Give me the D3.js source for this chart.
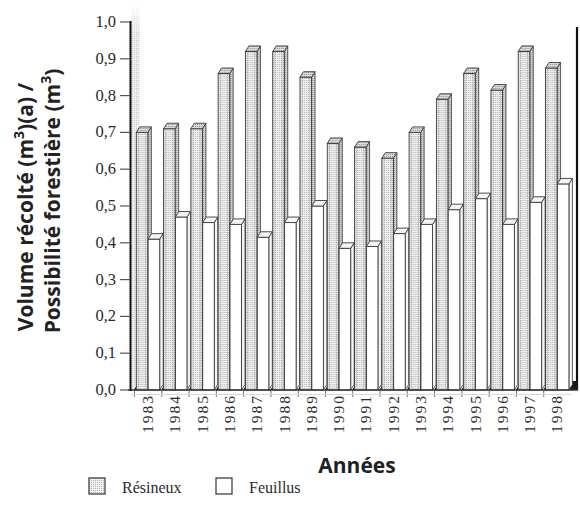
<!DOCTYPE html>
<html>
<head>
<meta charset="utf-8">
<script src="https://cdn.jsdelivr.net/npm/d3@7"></script>
<style>
  html, body { margin: 0; padding: 0; background: #fff; }
  svg { display: block; }
</style>
</head>
<body>
<svg id="chart" width="580" height="517"></svg>
<script>
// Harvested volume / allowable cut ratio, softwoods vs hardwoods
const years = ["1983","1984","1985","1986","1987","1988","1989","1990",
               "1991","1992","1993","1994","1995","1996","1997","1998"];
const resineux = [0.70, 0.71, 0.71, 0.86, 0.92, 0.92, 0.85, 0.67,
                  0.66, 0.63, 0.70, 0.79, 0.86, 0.815, 0.92, 0.875];
const feuillus = [0.41, 0.47, 0.455, 0.45, 0.415, 0.455, 0.50, 0.385,
                  0.39, 0.425, 0.45, 0.49, 0.52, 0.45, 0.51, 0.56];
const seriesNames = ["Résineux", "Feuillus"];
const yTicks = [0, 0.1, 0.2, 0.3, 0.4, 0.5, 0.6, 0.7, 0.8, 0.9, 1.0];
const yTickLabels = ["0,0","0,1","0,2","0,3","0,4","0,5","0,6","0,7","0,8","0,9","1,0"];

const svg = d3.select("#chart");

// stipple patterns for the shaded softwood bars
const defs = svg.append("defs");
function stipple(id, bg, dot) {
  const p = defs.append("pattern").attr("id", id)
    .attr("width", 2).attr("height", 2).attr("patternUnits", "userSpaceOnUse");
  p.append("rect").attr("width", 2).attr("height", 2).attr("fill", bg);
  p.append("rect").attr("width", 1).attr("height", 1).attr("fill", dot);
}
stipple("dotFront", "#f0f0f0", "#b4b4b4");
stipple("dotSide", "#d2d2d2", "#8e8e8e");
stipple("dotTop", "#dcdcdc", "#929292");
stipple("dotWall", "#f0f0f0", "#cdcdcd");

const wallTop = defs.append("linearGradient").attr("id", "wallFade")
  .attr("x1", 0).attr("x2", 0).attr("y1", 0).attr("y2", 1);
wallTop.append("stop").attr("offset", 0).attr("stop-color", "#fff").attr("stop-opacity", 1);
wallTop.append("stop").attr("offset", 1).attr("stop-color", "#fff").attr("stop-opacity", 0);

const y = d3.scaleLinear().domain([0, 1]).range([390, 22]);
const x = d3.scaleBand().domain(years).range([134.5, 571]);
const sub = d3.scaleBand().domain(seriesNames).range([1.8, 25.5]);
const dx = 3.5, dy = -5.5;

// back-wall strip next to the value axis
svg.append("rect").attr("x", 131).attr("y", 4).attr("width", 8.5).attr("height", 386)
  .attr("fill", "url(#dotWall)");
svg.append("rect").attr("x", 131).attr("y", 4).attr("width", 8.5).attr("height", 30)
  .attr("fill", "url(#wallFade)");

// right wall
svg.append("line").attr("x1", 577).attr("x2", 577).attr("y1", 27).attr("y2", 390)
  .attr("stroke", "#111").attr("stroke-width", 2.2);
svg.append("rect").attr("x", 568).attr("y", 381).attr("width", 10).attr("height", 9)
  .attr("fill", "#1a1a1a");

// floor ticks between the year bands
const floorTicks = years.map(d => x(d));
svg.append("g").selectAll("line").data(floorTicks).join("line")
  .attr("x1", d => d).attr("x2", d => d).attr("y1", 390).attr("y2", 397)
  .attr("stroke", "#777").attr("stroke-width", 1);
svg.append("line").attr("x1", 131).attr("x2", 571).attr("y1", 394.5).attr("y2", 394.5)
  .attr("stroke", "#d8d8d8").attr("stroke-width", 1);

// 3D bars
const style = {
  "Résineux": { front: "url(#dotFront)", side: "url(#dotSide)", top: "url(#dotTop)", stroke: "#3a3a3a" },
  "Feuillus": { front: "#ffffff", side: "#f6f6f6", top: "#f4f4f4", stroke: "#3a3a3a" }
};
const rows = years.map((yr, i) => ({ year: yr, values: [
  { key: "Résineux", value: resineux[i] },
  { key: "Feuillus", value: feuillus[i] }
]}));

const groups = svg.append("g").selectAll("g").data(rows).join("g")
  .attr("transform", d => `translate(${x(d.year)},0)`);

// small dark wedge at the foot of each band
groups.append("path")
  .attr("d", `M-0.5,390 L4,390 L4,382.5 Z`)
  .attr("fill", "#161616");

groups.each(function(row) {
  const g = d3.select(this);
  row.values.forEach(v => {
    const s = style[v.key];
    const x0 = sub(v.key), w = sub.bandwidth() - 0.3;
    const yt = y(v.value), yb = y(0);
    // side face
    g.append("path")
      .attr("d", `M${x0 + w},${yb} L${x0 + w},${yt} L${x0 + w + dx},${yt + dy} L${x0 + w + dx},${yb + dy} Z`)
      .attr("fill", s.side).attr("stroke", s.stroke).attr("stroke-width", 0.8);
    // front face
    g.append("rect").attr("x", x0).attr("y", yt).attr("width", w).attr("height", yb - yt)
      .attr("fill", s.front).attr("stroke", s.stroke).attr("stroke-width", 0.9);
    // top face
    g.append("path")
      .attr("d", `M${x0},${yt} L${x0 + dx},${yt + dy} L${x0 + w + dx},${yt + dy} L${x0 + w},${yt} Z`)
      .attr("fill", s.top).attr("stroke", s.stroke).attr("stroke-width", 0.9);
    if (v.key === "Résineux") {
      // inner shading lines along the shaded bar
      [2.2, w - 2.2].forEach(off => {
        g.append("line").attr("x1", x0 + off).attr("x2", x0 + off)
          .attr("y1", yt + 1).attr("y2", yb)
          .attr("stroke", "#9a9a9a").attr("stroke-width", 0.8).attr("stroke-dasharray", "1.5,1");
      });
    }
  });
});

// floor line
svg.append("line").attr("x1", 128).attr("x2", 578).attr("y1", 390).attr("y2", 390)
  .attr("stroke", "#333").attr("stroke-width", 1.3);

// value axis
svg.append("line").attr("x1", 130.5).attr("x2", 130.5).attr("y1", 21).attr("y2", 391)
  .attr("stroke", "#111").attr("stroke-width", 2);
const yAxis = svg.append("g");
yAxis.selectAll("line").data(yTicks).join("line")
  .attr("x1", 120).attr("x2", 130).attr("y1", d => y(d)).attr("y2", d => y(d))
  .attr("stroke", "#555").attr("stroke-width", 1.2);
yAxis.selectAll("text").data(yTicks).join("text")
  .attr("x", 116).attr("y", d => y(d) + 5)
  .attr("text-anchor", "end")
  .attr("font-family", "'Liberation Serif', 'DejaVu Serif', serif")
  .attr("font-size", 16.5).attr("fill", "#2a2a2a")
  .text((d, i) => yTickLabels[i]);

// year labels
svg.append("g").selectAll("text").data(years).join("text")
  .attr("transform", d => `translate(${x(d) + x.bandwidth() / 2 + 5},396) rotate(-90)`)
  .attr("text-anchor", "end")
  .attr("font-family", "'Liberation Serif', 'DejaVu Serif', serif")
  .attr("font-size", 15.5).attr("fill", "#2a2a2a")
  .attr("textLength", 37).attr("lengthAdjust", "spacing")
  .text(d => d);

// axis titles
const sans = "'Open Sans', 'Noto Sans', sans-serif";
const t1 = svg.append("text")
  .attr("transform", "translate(33,207) rotate(-90)")
  .attr("text-anchor", "middle").attr("font-family", sans)
  .attr("font-weight", 700).attr("font-size", 21).attr("fill", "#222");
t1.append("tspan").text("Volume récolté (m");
t1.append("tspan").attr("baseline-shift", "super").attr("font-size", 14).text("3");
t1.append("tspan").text(")(a) /");

const t2 = svg.append("text")
  .attr("transform", "translate(60,201) rotate(-90)")
  .attr("text-anchor", "middle").attr("font-family", sans)
  .attr("font-weight", 700).attr("font-size", 21).attr("fill", "#222");
t2.append("tspan").text("Possibilité forestière (m");
t2.append("tspan").attr("baseline-shift", "super").attr("font-size", 14).text("3");
t2.append("tspan").text(")");

svg.append("text").attr("x", 357).attr("y", 473)
  .attr("text-anchor", "middle").attr("font-family", sans)
  .attr("font-weight", 700).attr("font-size", 21).attr("fill", "#222")
  .text("Années");

// legend
const legendX = [89, 216];
const leg = svg.append("g").selectAll("g").data(seriesNames).join("g")
  .attr("transform", (d, i) => `translate(${legendX[i]},478)`);
leg.append("rect").attr("width", 16).attr("height", 16)
  .attr("fill", d => style[d].front).attr("stroke", "#333").attr("stroke-width", 1.2);
leg.append("text").attr("x", 33).attr("y", 15)
  .attr("font-family", "'Liberation Serif', 'DejaVu Serif', serif")
  .attr("font-size", 16).attr("fill", "#2a2a2a")
  .text(d => d);
</script>
</body>
</html>
